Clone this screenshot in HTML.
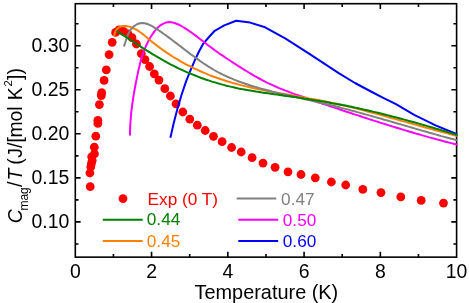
<!DOCTYPE html>
<html><head><meta charset="utf-8"><title>chart</title>
<style>
html,body{margin:0;padding:0;background:#fff;}
svg{display:block;will-change:transform;}
text{font-family:"Liberation Sans",sans-serif;}
</style></head><body>
<svg width="469" height="303" viewBox="0 0 469 303">
<rect x="0" y="0" width="469" height="303" fill="#ffffff"/>
<defs><clipPath id="cp"><rect x="74.50" y="2.90" width="382.90" height="255.05"/></clipPath></defs>

<rect x="75.3" y="3.7" width="381.30" height="253.45" fill="none" stroke="#000" stroke-width="1.6"/>
<path d="M113.43,257.15v-3.2M113.43,3.7v3.2M151.56,257.15v-5.3M151.56,3.7v5.3M189.69,257.15v-3.2M189.69,3.7v3.2M227.82,257.15v-5.3M227.82,3.7v5.3M265.95,257.15v-3.2M265.95,3.7v3.2M304.08,257.15v-5.3M304.08,3.7v5.3M342.21,257.15v-3.2M342.21,3.7v3.2M380.34,257.15v-5.3M380.34,3.7v5.3M418.47,257.15v-3.2M418.47,3.7v3.2M75.3,243.93h3.2M456.6,243.93h-3.2M75.3,221.90h5.3M456.6,221.90h-5.3M75.3,199.88h3.2M456.6,199.88h-3.2M75.3,177.85h5.3M456.6,177.85h-5.3M75.3,155.83h3.2M456.6,155.83h-3.2M75.3,133.80h5.3M456.6,133.80h-5.3M75.3,111.78h3.2M456.6,111.78h-3.2M75.3,89.75h5.3M456.6,89.75h-5.3M75.3,67.73h3.2M456.6,67.73h-3.2M75.3,45.70h5.3M456.6,45.70h-5.3M75.3,23.68h3.2M456.6,23.68h-3.2" stroke="#000" stroke-width="1.6" fill="none"/>
<g clip-path="url(#cp)">
<circle cx="90.2" cy="186.7" r="4.4" fill="#ff0000"/>
<circle cx="89.9" cy="173.0" r="4.4" fill="#ff0000"/>
<circle cx="90.8" cy="166.8" r="4.4" fill="#ff0000"/>
<circle cx="91.4" cy="163.6" r="4.4" fill="#ff0000"/>
<circle cx="92.2" cy="160.6" r="4.4" fill="#ff0000"/>
<circle cx="91.7" cy="156.8" r="4.4" fill="#ff0000"/>
<circle cx="94.4" cy="153.9" r="4.4" fill="#ff0000"/>
<circle cx="94.3" cy="147.2" r="4.4" fill="#ff0000"/>
<circle cx="95.8" cy="136.2" r="4.4" fill="#ff0000"/>
<circle cx="97.9" cy="123.4" r="4.4" fill="#ff0000"/>
<circle cx="97.9" cy="120.4" r="4.4" fill="#ff0000"/>
<circle cx="99.4" cy="104.6" r="4.4" fill="#ff0000"/>
<circle cx="101.3" cy="95.6" r="4.4" fill="#ff0000"/>
<circle cx="101.7" cy="92.7" r="4.4" fill="#ff0000"/>
<circle cx="104.1" cy="80.4" r="4.4" fill="#ff0000"/>
<circle cx="106.3" cy="69.9" r="4.4" fill="#ff0000"/>
<circle cx="109.1" cy="54.6" r="4.4" fill="#ff0000"/>
<circle cx="112.2" cy="42.3" r="4.4" fill="#ff0000"/>
<circle cx="115.6" cy="32.4" r="4.4" fill="#ff0000"/>
<circle cx="119.0" cy="29.8" r="4.4" fill="#ff0000"/>
<circle cx="123.5" cy="31.4" r="4.4" fill="#ff0000"/>
<circle cx="128.0" cy="33.8" r="4.4" fill="#ff0000"/>
<circle cx="132.0" cy="37.7" r="4.4" fill="#ff0000"/>
<circle cx="136.4" cy="44.0" r="4.4" fill="#ff0000"/>
<circle cx="141.3" cy="53.6" r="4.4" fill="#ff0000"/>
<circle cx="145.0" cy="59.7" r="4.4" fill="#ff0000"/>
<circle cx="149.6" cy="66.5" r="4.4" fill="#ff0000"/>
<circle cx="154.3" cy="73.9" r="4.4" fill="#ff0000"/>
<circle cx="159.0" cy="80.1" r="4.4" fill="#ff0000"/>
<circle cx="164.8" cy="88.7" r="4.4" fill="#ff0000"/>
<circle cx="170.4" cy="96.0" r="4.4" fill="#ff0000"/>
<circle cx="176.0" cy="103.8" r="4.4" fill="#ff0000"/>
<circle cx="182.8" cy="112.0" r="4.4" fill="#ff0000"/>
<circle cx="189.8" cy="119.1" r="4.4" fill="#ff0000"/>
<circle cx="197.3" cy="125.2" r="4.4" fill="#ff0000"/>
<circle cx="205.2" cy="130.5" r="4.4" fill="#ff0000"/>
<circle cx="213.5" cy="136.3" r="4.4" fill="#ff0000"/>
<circle cx="222.1" cy="141.7" r="4.4" fill="#ff0000"/>
<circle cx="231.6" cy="147.5" r="4.4" fill="#ff0000"/>
<circle cx="241.2" cy="152.0" r="4.4" fill="#ff0000"/>
<circle cx="252.1" cy="157.7" r="4.4" fill="#ff0000"/>
<circle cx="263.0" cy="163.1" r="4.4" fill="#ff0000"/>
<circle cx="275.1" cy="167.3" r="4.4" fill="#ff0000"/>
<circle cx="288.0" cy="171.8" r="4.4" fill="#ff0000"/>
<circle cx="301.0" cy="174.5" r="4.4" fill="#ff0000"/>
<circle cx="315.3" cy="177.8" r="4.4" fill="#ff0000"/>
<circle cx="331.4" cy="182.0" r="4.4" fill="#ff0000"/>
<circle cx="345.7" cy="185.0" r="4.4" fill="#ff0000"/>
<circle cx="362.8" cy="189.4" r="4.4" fill="#ff0000"/>
<circle cx="381.0" cy="192.6" r="4.4" fill="#ff0000"/>
<circle cx="400.8" cy="196.9" r="4.4" fill="#ff0000"/>
<circle cx="421.2" cy="200.4" r="4.4" fill="#ff0000"/>
<circle cx="443.5" cy="203.1" r="4.4" fill="#ff0000"/>
<polyline points="170.4,137.8 173.5,124.0 177.3,109.3 181.5,95.0 186.0,81.6 190.2,71.0 194.6,60.8 199.0,51.5 203.3,43.6 209.0,37.0 214.7,30.8 224.3,25.4 236.1,20.7 250.1,22.6 265.1,27.3 285.6,38.6 309.4,53.8 339.1,73.4 355.0,83.0 370.0,91.0 383.2,97.8 396.0,104.1 414.2,114.8 435.6,125.3 456.4,134.0 458.0,134.7" fill="none" stroke="#0000ff" stroke-width="2.0" stroke-linejoin="round" stroke-linecap="butt"/>
<polyline points="130.0,135.4 130.0,132.6 130.1,129.8 130.2,127.1 130.3,124.3 130.5,121.5 130.7,118.7 131.0,116.0 131.2,113.2 131.5,110.4 131.9,107.7 132.2,104.9 132.6,102.2 133.0,99.4 133.4,96.7 133.9,93.9 134.3,91.2 134.8,88.5 135.3,85.8 135.8,83.0 136.4,80.3 136.9,77.6 137.5,74.9 138.0,72.2 138.6,69.5 139.3,66.8 139.9,64.1 140.6,61.4 141.4,58.8 142.2,56.1 143.1,53.5 144.0,50.9 145.0,48.3 146.1,45.7 147.3,43.2 148.6,40.6 150.0,38.1 151.5,35.6 153.2,33.2 154.9,30.9 156.7,28.7 158.7,26.8 160.7,25.1 162.9,23.8 165.2,22.8 167.5,22.2 170.0,22.1 172.6,22.5 175.2,23.2 177.8,24.2 180.4,25.5 183.0,27.0 185.6,28.6 188.0,30.2 190.4,31.8 192.7,33.5 195.0,35.1 197.2,36.8 199.4,38.5 201.6,40.2 203.7,41.8 205.9,43.5 208.0,45.2 210.2,46.8 212.4,48.4 214.6,50.1 216.9,51.7 219.1,53.3 221.4,54.8 223.7,56.4 226.0,58.0 228.4,59.5 230.7,61.0 233.0,62.6 235.4,64.1 237.7,65.6 240.1,67.1 242.5,68.6 244.8,70.1 247.2,71.5 249.6,73.0 251.9,74.4 254.3,75.8 256.7,77.2 259.2,78.5 261.6,79.8 264.1,81.1 266.5,82.4 269.0,83.6 271.5,84.7 274.1,85.9 276.6,87.0 279.1,88.1 281.7,89.1 284.3,90.1 286.9,91.1 289.5,92.1 292.1,93.1 294.7,94.1 297.3,95.0 299.9,95.9 302.5,96.8 305.2,97.7 307.8,98.6 310.4,99.5 313.1,100.4 315.7,101.3 318.3,102.2 321.0,103.1 323.6,104.0 326.3,104.9 328.9,105.8 331.5,106.7 334.2,107.6 336.8,108.4 339.4,109.3 342.1,110.2 344.7,111.1 347.3,112.0 350.0,112.8 352.6,113.7 355.2,114.6 357.9,115.4 360.5,116.3 363.2,117.2 365.8,118.0 368.4,118.9 371.1,119.7 373.7,120.6 376.4,121.4 379.0,122.3 381.7,123.1 384.3,123.9 386.9,124.8 389.6,125.6 392.2,126.4 394.9,127.2 397.6,128.0 400.2,128.8 402.9,129.6 405.5,130.4 408.2,131.2 410.8,132.0 413.5,132.8 416.2,133.6 418.8,134.3 421.5,135.1 424.2,135.9 426.9,136.6 429.5,137.4 432.2,138.1 434.9,138.8 437.6,139.6 440.3,140.3 442.9,141.0 445.6,141.7 448.3,142.4 451.0,143.1 453.7,143.8 456.4,144.5 458.0,144.9" fill="none" stroke="#ff00ff" stroke-width="2.0" stroke-linejoin="round" stroke-linecap="butt"/>
<polyline points="114.2,36.2 115.0,32.4 116.6,29.5 118.8,27.5 121.4,26.3 124.3,25.9 127.3,26.2 130.2,26.9 133.1,28.0 135.8,29.3 138.3,30.9 140.9,32.7 143.3,34.6 145.7,36.6 148.1,38.6 150.5,40.6 153.0,42.6 155.5,44.5 157.9,46.4 160.5,48.3 163.0,50.1 165.6,51.9 168.2,53.6 170.8,55.3 173.4,57.0 176.1,58.6 178.8,60.2 181.5,61.8 184.2,63.3 186.9,64.8 189.7,66.2 192.5,67.6 195.3,68.9 198.1,70.2 200.9,71.5 203.8,72.7 206.6,73.9 209.5,75.1 212.4,76.2 215.3,77.3 218.2,78.3 221.1,79.3 224.1,80.3 227.0,81.2 230.0,82.1 232.9,83.0 235.9,83.8 238.9,84.6 241.9,85.4 244.9,86.1 247.9,86.8 250.9,87.5 253.9,88.2 257.0,88.8 260.0,89.5 263.1,90.1 266.1,90.7 269.2,91.3 272.2,91.9 275.3,92.4 278.3,93.0 281.4,93.5 284.5,94.1 287.5,94.6 290.6,95.1 293.7,95.7 296.7,96.2 299.8,96.7 302.9,97.3 306.0,97.8 309.0,98.4 312.1,98.9 315.1,99.5 318.2,100.1 321.3,100.7 324.3,101.3 327.4,101.9 330.4,102.5 333.4,103.2 336.5,103.8 339.5,104.5 342.5,105.2 345.5,105.9 348.6,106.6 351.6,107.4 354.6,108.1 357.6,108.9 360.6,109.6 363.6,110.4 366.6,111.2 369.6,112.0 372.6,112.8 375.6,113.6 378.6,114.4 381.5,115.2 384.5,116.0 387.5,116.9 390.5,117.7 393.5,118.6 396.5,119.4 399.5,120.2 402.4,121.1 405.4,121.9 408.4,122.8 411.4,123.6 414.4,124.4 417.4,125.3 420.4,126.1 423.4,127.0 426.4,127.8 429.4,128.6 432.4,129.4 435.4,130.2 438.4,131.0 441.4,131.8 444.4,132.6 447.4,133.4 450.4,134.2 453.4,135.0 456.4,135.7 458.0,136.1" fill="none" stroke="#ff8000" stroke-width="2.0" stroke-linejoin="round" stroke-linecap="butt"/>
<polyline points="123.9,46.4 124.9,43.7 125.8,40.8 126.8,37.7 127.9,34.7 129.4,31.8 131.2,29.0 133.5,26.6 136.2,24.7 139.0,23.5 141.8,23.0 144.6,23.2 147.4,24.0 150.1,25.1 152.9,26.6 155.6,28.3 158.2,30.0 160.9,31.8 163.5,33.7 166.1,35.5 168.6,37.4 171.2,39.3 173.7,41.2 176.2,43.1 178.7,45.0 181.2,46.9 183.6,48.8 186.1,50.7 188.6,52.6 191.1,54.5 193.6,56.3 196.1,58.1 198.6,59.9 201.1,61.7 203.7,63.5 206.3,65.2 208.9,66.8 211.5,68.4 214.1,70.0 216.8,71.5 219.5,73.0 222.3,74.3 225.1,75.7 227.9,77.0 230.8,78.2 233.6,79.4 236.6,80.6 239.5,81.7 242.4,82.7 245.4,83.8 248.4,84.7 251.4,85.7 254.4,86.6 257.4,87.5 260.4,88.4 263.4,89.2 266.5,90.0 269.5,90.8 272.5,91.6 275.6,92.4 278.6,93.1 281.6,93.9 284.7,94.6 287.7,95.3 290.8,96.0 293.8,96.7 296.8,97.4 299.9,98.1 302.9,98.8 305.9,99.4 309.0,100.1 312.0,100.8 315.0,101.5 318.0,102.2 321.1,102.9 324.1,103.6 327.1,104.3 330.1,105.0 333.2,105.8 336.2,106.5 339.2,107.3 342.2,108.1 345.2,108.9 348.3,109.6 351.3,110.5 354.3,111.3 357.3,112.1 360.3,112.9 363.3,113.7 366.3,114.6 369.3,115.4 372.3,116.3 375.4,117.1 378.4,118.0 381.4,118.8 384.4,119.7 387.4,120.5 390.4,121.4 393.4,122.3 396.4,123.2 399.4,124.0 402.4,124.9 405.4,125.8 408.4,126.6 411.4,127.5 414.4,128.4 417.4,129.3 420.4,130.1 423.4,131.0 426.4,131.8 429.4,132.7 432.4,133.5 435.4,134.4 438.4,135.2 441.4,136.1 444.4,136.9 447.4,137.7 450.4,138.5 453.4,139.3 456.4,140.1 458.0,140.6" fill="none" stroke="#808080" stroke-width="2.0" stroke-linejoin="round" stroke-linecap="butt"/>
<polyline points="116.6,30.8 119.1,32.5 121.6,34.1 124.1,35.8 126.6,37.4 129.2,39.1 131.7,40.7 134.2,42.4 136.7,44.0 139.3,45.7 141.8,47.3 144.4,49.0 146.9,50.6 149.5,52.2 152.1,53.8 154.7,55.4 157.3,56.9 159.9,58.4 162.5,59.9 165.1,61.4 167.8,62.9 170.4,64.3 173.1,65.6 175.8,67.0 178.5,68.3 181.2,69.6 184.0,70.8 186.7,72.1 189.5,73.3 192.3,74.4 195.1,75.5 197.9,76.6 200.7,77.7 203.5,78.7 206.3,79.7 209.2,80.6 212.0,81.6 214.9,82.4 217.8,83.3 220.7,84.1 223.6,84.9 226.5,85.7 229.4,86.4 232.4,87.1 235.3,87.7 238.2,88.4 241.2,89.0 244.2,89.5 247.1,90.1 250.1,90.6 253.1,91.1 256.1,91.6 259.0,92.0 262.0,92.5 265.0,92.9 268.0,93.3 271.0,93.8 274.0,94.2 277.0,94.6 280.0,95.0 283.0,95.4 286.0,95.9 289.0,96.3 292.0,96.7 295.0,97.1 298.0,97.6 300.9,98.0 303.9,98.5 306.9,98.9 309.9,99.4 312.9,99.9 315.9,100.4 318.8,100.8 321.8,101.3 324.8,101.8 327.8,102.3 330.7,102.9 333.7,103.4 336.7,103.9 339.6,104.5 342.6,105.1 345.5,105.6 348.5,106.2 351.4,106.8 354.4,107.4 357.3,108.1 360.3,108.7 363.2,109.4 366.2,110.0 369.1,110.7 372.1,111.4 375.0,112.1 377.9,112.8 380.9,113.5 383.8,114.2 386.7,115.0 389.6,115.7 392.6,116.5 395.5,117.2 398.4,118.0 401.3,118.8 404.2,119.6 407.1,120.4 410.1,121.2 413.0,122.0 415.9,122.8 418.8,123.6 421.7,124.5 424.6,125.3 427.5,126.1 430.4,127.0 433.3,127.8 436.2,128.7 439.1,129.5 441.9,130.4 444.8,131.3 447.7,132.1 450.6,133.0 453.5,133.9 456.4,134.7 458.0,135.2" fill="none" stroke="#008000" stroke-width="2.0" stroke-linejoin="round" stroke-linecap="butt"/>
</g>
<text x="75.3" y="277.6" font-size="19.4" text-anchor="middle" fill="#000">0</text>
<text x="151.6" y="277.6" font-size="19.4" text-anchor="middle" fill="#000">2</text>
<text x="227.8" y="277.6" font-size="19.4" text-anchor="middle" fill="#000">4</text>
<text x="304.1" y="277.6" font-size="19.4" text-anchor="middle" fill="#000">6</text>
<text x="380.3" y="277.6" font-size="19.4" text-anchor="middle" fill="#000">8</text>
<text x="456.6" y="277.6" font-size="19.4" text-anchor="middle" fill="#000">10</text>
<text x="69.3" y="228.1" font-size="19.4" text-anchor="end" fill="#000">0.10</text>
<text x="69.3" y="184.1" font-size="19.4" text-anchor="end" fill="#000">0.15</text>
<text x="69.3" y="140.0" font-size="19.4" text-anchor="end" fill="#000">0.20</text>
<text x="69.3" y="96.0" font-size="19.4" text-anchor="end" fill="#000">0.25</text>
<text x="69.3" y="51.9" font-size="19.4" text-anchor="end" fill="#000">0.30</text>
<text x="266.4" y="298.7" font-size="19.9" text-anchor="middle" fill="#000">Temperature (K)</text>
<text transform="translate(21.9,145.5) rotate(-90)" y="0" font-size="19.4" text-anchor="start" fill="#000"><tspan x="-77.8" font-style="italic">C</tspan><tspan x="-65.1" font-size="12" dy="6.1">mag</tspan><tspan x="-41.6" dy="-6.1">/</tspan><tspan x="-35.0" font-style="italic">T</tspan><tspan x="-19.2">(</tspan><tspan x="-12.2">J/[</tspan><tspan x="7.9">mol</tspan><tspan x="45.2">K</tspan><tspan x="59.0" font-size="11.3" dy="-10">2</tspan><tspan x="65.5" dy="10">])</tspan></text>
<circle cx="123.0" cy="198.6" r="4.4" fill="#ff0000"/>
<text x="147.6" y="204.5" font-size="17.2" fill="#ff0000">Exp (0 T)</text>
<line x1="102.8" y1="219.8" x2="142.7" y2="219.8" stroke="#008000" stroke-width="2"/>
<text x="146.8" y="225.2" font-size="17.2" fill="#008000">0.44</text>
<line x1="102.8" y1="240.9" x2="142.7" y2="240.9" stroke="#ff8000" stroke-width="2"/>
<text x="146.8" y="246.6" font-size="17.2" fill="#ff8000">0.45</text>
<line x1="236.6" y1="198.6" x2="276.3" y2="198.6" stroke="#808080" stroke-width="2"/>
<text x="281.1" y="204.5" font-size="17.2" fill="#808080">0.47</text>
<line x1="238.3" y1="219.8" x2="278.2" y2="219.8" stroke="#ff00ff" stroke-width="2"/>
<text x="282.8" y="225.8" font-size="17.2" fill="#ff00ff">0.50</text>
<line x1="238.3" y1="240.9" x2="278.2" y2="240.9" stroke="#0000ff" stroke-width="2"/>
<text x="282.8" y="246.8" font-size="17.2" fill="#0000ff">0.60</text>
</svg></body></html>
